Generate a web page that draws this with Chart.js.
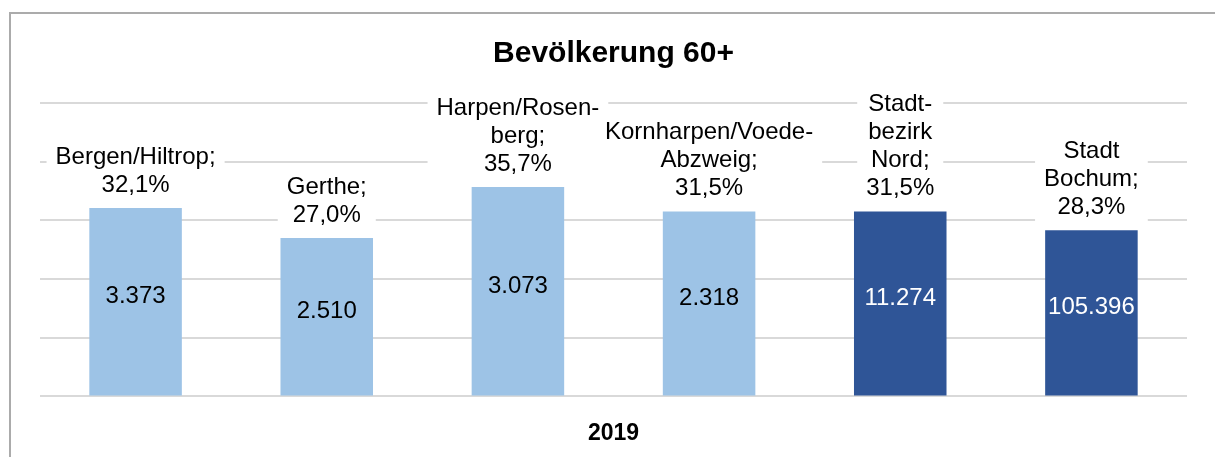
<!doctype html>
<html>

<head>
    <title>Bevölkerung 60+</title>
    <script src="https://cdn.jsdelivr.net/npm/chart.js@4/dist/chart.umd.min.js"></script>
    <style>
    body { margin: 0; background: #fff; }
    #wrap { width: 1215px; height: 457px; position: relative; }
    </style>
</head>

<body>
    <div id="wrap">
        <canvas id="canvas"></canvas>
    </div>

    <script>
    // data
    var categories = ["2019"];
    var districts = [
        ["Bergen/Hiltrop"],
        ["Gerthe"],
        ["Harpen/Rosen-", "berg"],
        ["Kornharpen/Voede-", "Abzweig"],
        ["Stadt-", "bezirk", "Nord"],
        ["Stadt", "Bochum"]
    ];
    var shares = [32.1, 27.0, 35.7, 31.5, 31.5, 28.3];      // percent 60+
    var counts = [3373, 2510, 3073, 2318, 11274, 105396];    // persons 60+
    var yTicks = [0, 10, 20, 30, 40, 50];

    var light = "#9DC3E6";
    var dark = "#2F5597";
    var barColors = [light, light, light, light, dark, dark];
    var font = '"Liberation Sans", Arial, sans-serif';

    function fmtPct(v) { return v.toFixed(1).replace(".", ",") + "%"; }
    function fmtCount(v) { return String(v).replace(/\B(?=(\d{3})+(?!\d))/g, "."); }

    var datasets = districts.map(function(name, i) {
        return {
            label: name.join(""),
            data: [shares[i]],
            backgroundColor: barColors[i],
            barPercentage: 0.484,
            categoryPercentage: 1
        };
    });

    // outer frame (only left and top edge are in view)
    var framePlugin = {
        id: "frame",
        beforeDraw: function(chart) {
            var ctx = chart.ctx;
            ctx.save();
            ctx.strokeStyle = "#ababab";
            ctx.lineWidth = 2;
            ctx.beginPath();
            ctx.moveTo(10, chart.height + 5);
            ctx.lineTo(10, 13);
            ctx.lineTo(chart.width + 5, 13);
            ctx.stroke();
            ctx.restore();
        }
    };

    // labels above the bars and values inside the bars
    var labelPlugin = {
        id: "barLabels",
        afterDatasetsDraw: function(chart) {
            var ctx = chart.ctx;
            ctx.save();
            ctx.font = "24px " + font;
            ctx.textAlign = "center";
            ctx.textBaseline = "middle";
            var lh = 28;
            chart.data.datasets.forEach(function(ds, i) {
                var bar = chart.getDatasetMeta(i).data[0];
                var lines = districts[i].slice();
                lines[lines.length - 1] += ";";
                lines.push(fmtPct(shares[i]));
                var w = 0;
                lines.forEach(function(t) { w = Math.max(w, ctx.measureText(t).width); });
                var last = bar.y - 23;
                var first = last - (lines.length - 1) * lh;
                ctx.fillStyle = "#fff";
                ctx.fillRect(bar.x - w / 2 - 9, first - 15, w + 18, last - first + 30);
                ctx.fillStyle = "#000";
                lines.forEach(function(t, k) { ctx.fillText(t, bar.x, first + k * lh); });

                ctx.fillStyle = barColors[i] === dark ? "#fff" : "#000";
                ctx.fillText(fmtCount(counts[i]), bar.x, (bar.y + bar.base) / 2 - 5);
            });
            ctx.restore();
        }
    };

    var config = {
        type: "bar",
        data: {
            labels: categories,
            datasets: datasets
        },
        options: {
            responsive: true,
            maintainAspectRatio: false,
            animation: false,
            layout: {
                padding: { left: 40, right: 28, top: 0, bottom: 0 }
            },
            plugins: {
                legend: { display: false },
                tooltip: { enabled: false },
                title: {
                    display: true,
                    text: "Bevölkerung 60+",
                    color: "#000",
                    font: { family: font, size: 30, weight: "bold" },
                    padding: { top: 36, bottom: 31 }
                }
            },
            scales: {
                x: {
                    grid: { display: false, drawTicks: false },
                    border: { display: false },
                    ticks: { display: false },
                    title: {
                        display: true,
                        text: categories[0],
                        color: "#000",
                        font: { family: font, size: 23, weight: "bold" },
                        padding: { top: 23, bottom: 10 }
                    }
                },
                y: {
                    min: yTicks[0],
                    max: yTicks[yTicks.length - 1],
                    ticks: { display: false, stepSize: yTicks[1] - yTicks[0] },
                    grid: { color: "#d9d9d9", lineWidth: 2, drawTicks: false },
                    border: { display: false }
                }
            }
        },
        plugins: [framePlugin, labelPlugin]
    };

    window.onload = function() {
        window.myBar = new Chart(document.getElementById("canvas"), config);
    };
    </script>
</body>

</html>
